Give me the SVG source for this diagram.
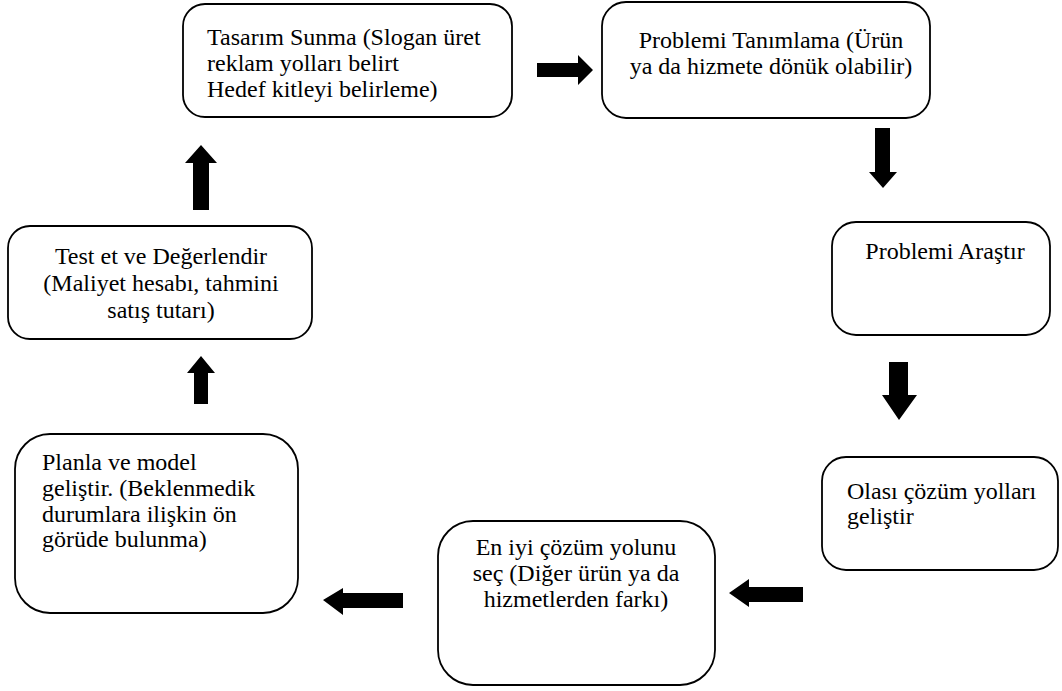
<svg xmlns="http://www.w3.org/2000/svg" width="1062" height="691" viewBox="0 0 1062 691">
<style>
.box{fill:#fff;stroke:#000;stroke-width:1.8}
.t{font-family:"Liberation Serif","Times New Roman",serif;font-size:24px;fill:#000}
.c{text-anchor:middle}
.arr{fill:#000}
</style>
<rect width="1062" height="691" fill="#fff"/>
<g id="n1">
<rect class="box" x="183" y="4" width="329" height="113" rx="22"/>
<text class="t" x="207" y="45">Tasarım Sunma (Slogan üret</text>
<text class="t" x="207" y="71">reklam yolları belirt</text>
<text class="t" x="207" y="96.5">Hedef kitleyi belirleme)</text>
</g>
<g id="n2">
<rect class="box" x="602" y="2" width="328" height="116" rx="24"/>
<text class="t c" x="771" y="48">Problemi Tanımlama (Ürün</text>
<text class="t c" x="771" y="74">ya da hizmete dönük olabilir)</text>
</g>
<g id="n3">
<rect class="box" x="832" y="222" width="218" height="113" rx="24"/>
<text class="t c" x="945" y="259">Problemi Araştır</text>
</g>
<g id="n4">
<rect class="box" x="822" y="457" width="236" height="113" rx="24"/>
<text class="t" x="847" y="499">Olası çözüm yolları</text>
<text class="t" x="847" y="524">geliştir</text>
</g>
<g id="n5">
<rect class="box" x="438" y="521" width="277" height="164" rx="35"/>
<text class="t c" x="576" y="555">En iyi çözüm yolunu</text>
<text class="t c" x="576" y="581">seç (Diğer ürün ya da</text>
<text class="t c" x="576" y="607">hizmetlerden farkı)</text>
</g>
<g id="n6">
<rect class="box" x="15" y="434" width="283" height="179" rx="35"/>
<text class="t" x="42" y="470">Planla ve model</text>
<text class="t" x="42" y="496">geliştir. (Beklenmedik</text>
<text class="t" x="42" y="521.5">durumlara ilişkin ön</text>
<text class="t" x="42" y="547">görüde bulunma)</text>
</g>
<g id="n7">
<rect class="box" x="8" y="226" width="304" height="113" rx="22"/>
<text class="t c" x="161" y="264">Test et ve Değerlendir</text>
<text class="t c" x="161" y="291">(Maliyet hesabı, tahmini</text>
<text class="t c" x="161" y="318">satış tutarı)</text>
</g>
<g id="connectors">
<polygon class="arr" points="537,63 578,63 578,55 593,70 578,85 578,77 537,77"/>
<polygon class="arr" points="875,128 890,128 890,172 897,172 883,188 869,172 875,172"/>
<polygon class="arr" points="889,362 908,362 908,395 917,395 899,420 882,395 889,395"/>
<polygon class="arr" points="803,587 749,587 749,579 729,593 749,607 749,602 803,602"/>
<polygon class="arr" points="403,593 343,593 343,588 323,600 343,615 343,608 403,608"/>
<polygon class="arr" points="194,404 194,373 187,373 201,356 215,373 208,373 208,404"/>
<polygon class="arr" points="193,210 193,163 185,163 201,145 217,163 209,163 209,210"/>
</g>
</svg>
